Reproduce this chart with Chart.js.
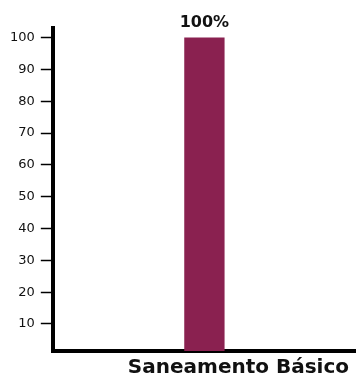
<!DOCTYPE html>
<html>
<head>
<meta charset="utf-8">
<script src="https://cdn.jsdelivr.net/npm/chart.js@4"></script>
<style>
  html, body { margin: 0; padding: 0; background: #fff; }
  #wrap { width: 356px; height: 376px; position: relative; }
</style>
</head>
<body>
<div id="wrap"><canvas id="chart"></canvas></div>
<script>
const categories = ["Saneamento Básico"];
const values = [100];
const valueLabels = ["100%"];
const yTicks = [10, 20, 30, 40, 50, 60, 70, 80, 90, 100];

const barColor = "#8a2150";

// draw the percentage above each bar
const topLabels = {
  id: "topLabels",
  afterDatasetsDraw(chart) {
    const ctx = chart.ctx;
    const meta = chart.getDatasetMeta(0);
    ctx.save();
    ctx.font = "bold 16px 'DejaVu Sans', sans-serif";
    ctx.fillStyle = "#111";
    ctx.textAlign = "center";
    ctx.textBaseline = "alphabetic";
    meta.data.forEach((bar, i) => {
      ctx.fillText(valueLabels[i], bar.x, bar.y - 11);
    });
    ctx.restore();
  },
};

new Chart(document.getElementById("chart"), {
  type: "bar",
  data: {
    labels: categories,
    datasets: [{
      data: values,
      backgroundColor: barColor,
      barPercentage: 0.133,
      categoryPercentage: 1,
    }],
  },
  options: {
    responsive: true,
    maintainAspectRatio: false,
    animation: false,
    layout: { padding: { top: 28, right: 0, left: 4, bottom: 0 } },
    plugins: { legend: { display: false }, tooltip: { enabled: false } },
    scales: {
      x: {
        grid: { display: false },
        border: { display: true, color: "#000", width: 4 },
        ticks: { display: false },
        title: {
          display: true,
          text: "Saneamento Básico ",
          align: "end",
          color: "#111",
          font: { family: "'DejaVu Sans', sans-serif", size: 20, weight: "bold" },
          padding: { top: -3, bottom: -4 },
        },
      },
      y: {
        min: 1.5,
        max: 103,
        afterBuildTicks: (axis) => {
          axis.ticks = yTicks.map((v) => ({ value: v }));
        },
        grid: { drawOnChartArea: false, tickLength: 12, tickWidth: 1.5, tickColor: "#000" },
        border: { display: true, color: "#000", width: 4 },
        ticks: {
          color: "#111",
          padding: 6,
          font: { family: "'DejaVu Sans', sans-serif", size: 13 },
        },
      },
    },
  },
  plugins: [topLabels],
});
</script>
</body>
</html>
